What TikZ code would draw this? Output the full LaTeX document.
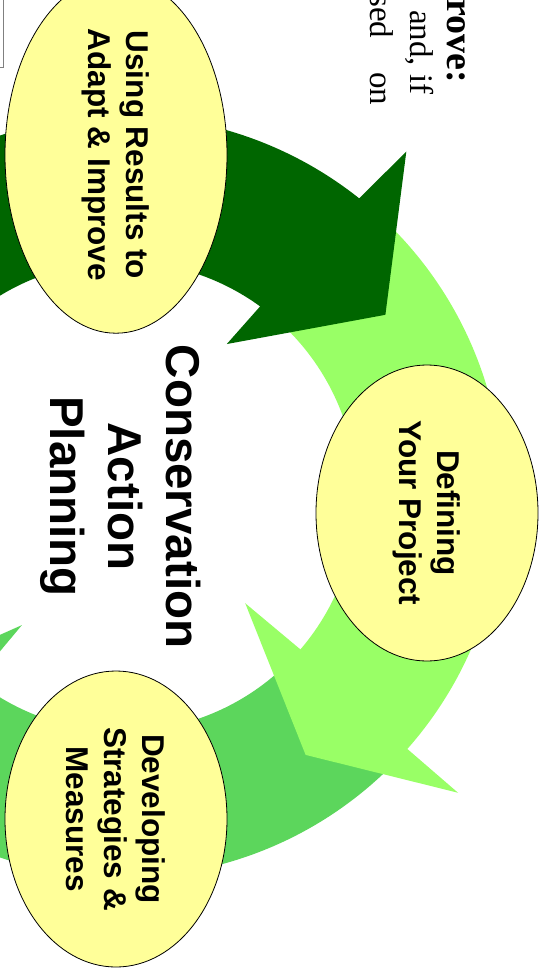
\documentclass[tikz,border=0pt]{standalone}
\usepackage{fontspec}
\setmainfont{Liberation Serif}
\newfontfamily\ringfont{Liberation Sans}
\usepackage{tikz}
\usetikzlibrary{calc}
\usetikzlibrary{shapes.geometric}
\definecolor{darkleaf}{RGB}{0,102,0}
\definecolor{lightleaf}{RGB}{153,255,102}
\definecolor{midleaf}{RGB}{92,214,92}
\definecolor{stageyellow}{RGB}{255,255,153}
\tikzstyle{stage}=[ellipse, draw=black, line width=.8pt, fill=stageyellow, rotate=-90,
        minimum width=296pt, minimum height=222pt, inner sep=0pt, align=center,
        font=\ringfont\bfseries\fontsize{31.5}{38}\selectfont]
\tikzstyle{title}=[rotate=-90, align=center, font=\ringfont\bfseries\fontsize{47.5}{58}\selectfont]
\tikzstyle{body}=[rotate=-90, anchor=base west, inner sep=0pt, font=\fontsize{33}{37}\selectfont]

\begin{document}
\begin{tikzpicture}[x=1pt, y=-1pt]

                \useasboundingbox (0, 0) rectangle (548, 972);
                \clip (0, 0) rectangle (548, 972);

                \coordinate (O) at (122, 496.5);
                \coordinate (R) at (116, 155);
                \coordinate (P) at (427, 513);
                \coordinate (S) at (116, 819);
                \coordinate (T) at (121, 496.5);

                \fill [midleaf] ($(O)+(45:381)$) arc [start angle=45, end angle=128.5, radius=381]
                        -- ($(O)+(129:448)$) -- ($(O)+(142:317)$) -- ($(O)+(127.9:163)$)
                        -- ($(O)+(128.5:235)$) arc [start angle=128.5, end angle=45, radius=235] -- cycle;
                \fill [lightleaf] ($(O)+(-50:381)$) arc [start angle=-50, end angle=41.5, radius=381]
                        -- ($(O)+(41.4:448)$) -- ($(O)+(54.6:317)$) -- ($(O)+(40.9:163)$)
                        -- ($(O)+(40.6:235)$) arc [start angle=40.6, end angle=-50, radius=235] -- cycle;
                \fill [darkleaf] ($(O)+(-150:381)$) arc [start angle=-150, end angle=-51.5, radius=381]
                        -- ($(O)+(-50.5:447)$) -- ($(O)+(-34.6:320)$) -- ($(O)+(-55.5:185)$)
                        -- ($(O)+(-54:235)$) arc [start angle=-54, end angle=-150, radius=235] -- cycle;

                \node [stage] (r) at (R) {Using Results to\\Adapt \& Improve};
                \node [stage] (p) at (P) {Defining\\Your Project};
                \node [stage] (s) at (S) {Developing\\Strategies \&\\Measures};

                \node [title] (t) at (T) {Conservation\\Action\\Planning};

                \draw [gray, line width=1pt] (-5, -5) rectangle (3.3, 67);

                \node [body, font=\bfseries\fontsize{38}{40}\selectfont] (b1) at (447, -1) {rove:};
                \node [body] (b2) at (410, 10) {and, if};
                \node [body] (b3) at (370, -6) {sed\hspace{26pt} on};

\end{tikzpicture}
\end{document}
